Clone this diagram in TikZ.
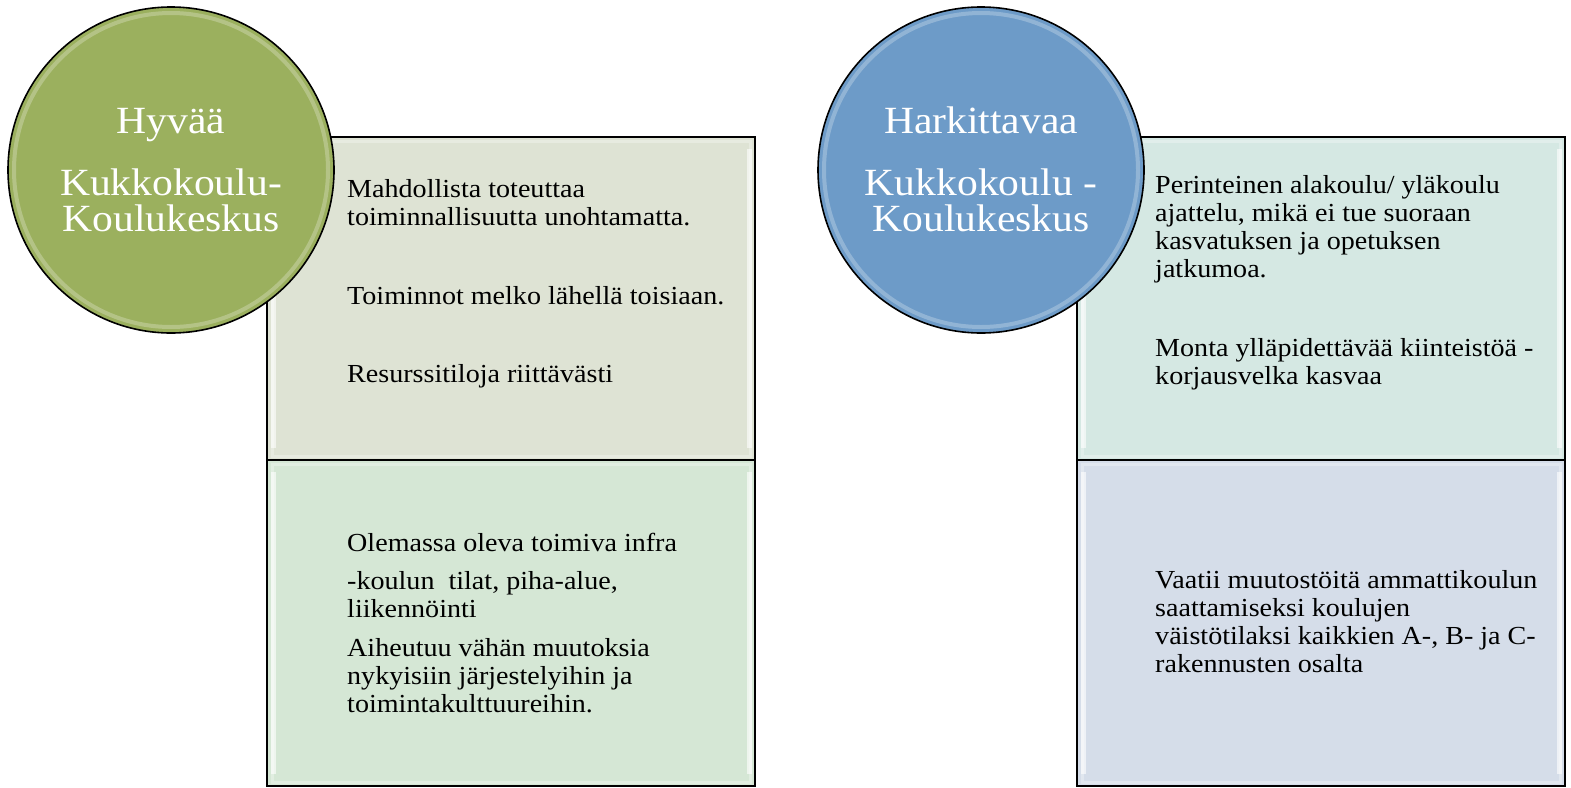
\documentclass[tikz,border=0pt]{standalone}
\usepackage{fontspec}
\setmainfont[FakeStretch=1.08]{Liberation Serif}

\definecolor{badgegreen}{HTML}{9BB05E}
\definecolor{badgeblue}{HTML}{6D9BC8}
\definecolor{paneltopgreen}{HTML}{DEE3D4}
\definecolor{panelbotgreen}{HTML}{D5E7D5}
\definecolor{paneltopblue}{HTML}{D5E8E3}
\definecolor{panelbotblue}{HTML}{D5DDE9}

\tikzset{
	paneltext/.style={anchor=base west, align=left, inner sep=0pt,
		font=\fontsize{26}{27.8}\selectfont},
	badgetext/.style={anchor=base, align=center, inner sep=0pt, text=white,
		font=\fontsize{38.5}{36}\selectfont}
}

\begin{document}
\begin{tikzpicture}[x=1pt, y=-1pt]
	\useasboundingbox (0,0) rectangle (1571,787);

	% \drawpanel#x1#y1#x2#y2#color
	\def\drawpanel#1#2#3#4#5{
		\filldraw[fill=#5, draw=black, line width=2pt] (#1, #2) rectangle (#3, #4);
		\draw[white, opacity=.3, line width=3pt] (#1 + 5, #2 + 4) rectangle (#3 - 5, #4 - 4);
		\draw[white, opacity=.6, line width=5pt] (#1 + 6, #2 + 12) -- (#1 + 6, #4 - 12);
		\draw[white, opacity=.6, line width=5pt] (#3 - 6, #2 + 12) -- (#3 - 6, #4 - 12);
	}

	% \drawbadge#x#y#radius#color
	\def\drawbadge#1#2#3#4{
		\filldraw[fill=#4, draw=black, line width=1.6pt] (#1, #2) circle (#3);
		\draw[white, opacity=.25, line width=4pt] (#1, #2) circle (#3 - 6);
	}

	% left panels
	\drawpanel{267}{137}{755}{460}{paneltopgreen}
	\drawpanel{267}{460}{755}{786}{panelbotgreen}

	% right panels
	\drawpanel{1077}{137}{1565}{460}{paneltopblue}
	\drawpanel{1077}{460}{1565}{786}{panelbotblue}

	% badges
	\drawbadge{171}{170}{163}{badgegreen}
	\drawbadge{981}{170}{163}{badgeblue}

	% baselines are those of the last line
	\node[badgetext] (goodhead) at (171, 133) {Hyvää};
	\node[badgetext] (goodname) at (171, 231) {Kukkokoulu-\\Koulukeskus};
	\node[badgetext] (thinkhead) at (981, 133) {Harkittavaa};
	\node[badgetext] (thinkname) at (981, 231) {Kukkokoulu -\\Koulukeskus};

	% left texts
	\node[paneltext] (goodone) at (347, 225) {Mahdollista toteuttaa\\toiminnallisuutta unohtamatta.};
	\node[paneltext] (goodtwo) at (347, 304) {Toiminnot melko lähellä toisiaan.};
	\node[paneltext] (goodthree) at (347, 382) {Resurssitiloja riittävästi};
	\node[paneltext] (goodfour) at (347, 551) {Olemassa oleva toimiva infra};
	\node[paneltext] (goodfive) at (347, 617) {-koulun\ \ tilat, piha-alue,\\liikennöinti};
	\node[paneltext] (goodsix) at (347, 712) {Aiheutuu vähän muutoksia\\nykyisiin järjestelyihin ja\\toimintakulttuureihin.};

	% right texts
	\node[paneltext] (thinkone) at (1155, 277) {Perinteinen alakoulu/ yläkoulu\\ajattelu, mikä ei tue suoraan\\kasvatuksen ja opetuksen\\jatkumoa.};
	\node[paneltext] (thinktwo) at (1155, 384) {Monta ylläpidettävää kiinteistöä -\\korjausvelka kasvaa};
	\node[paneltext] (thinkthree) at (1155, 672) {Vaatii muutostöitä ammattikoulun\\saattamiseksi koulujen\\väistötilaksi kaikkien A-, B- ja C-\\rakennusten osalta};
\end{tikzpicture}
\end{document}
